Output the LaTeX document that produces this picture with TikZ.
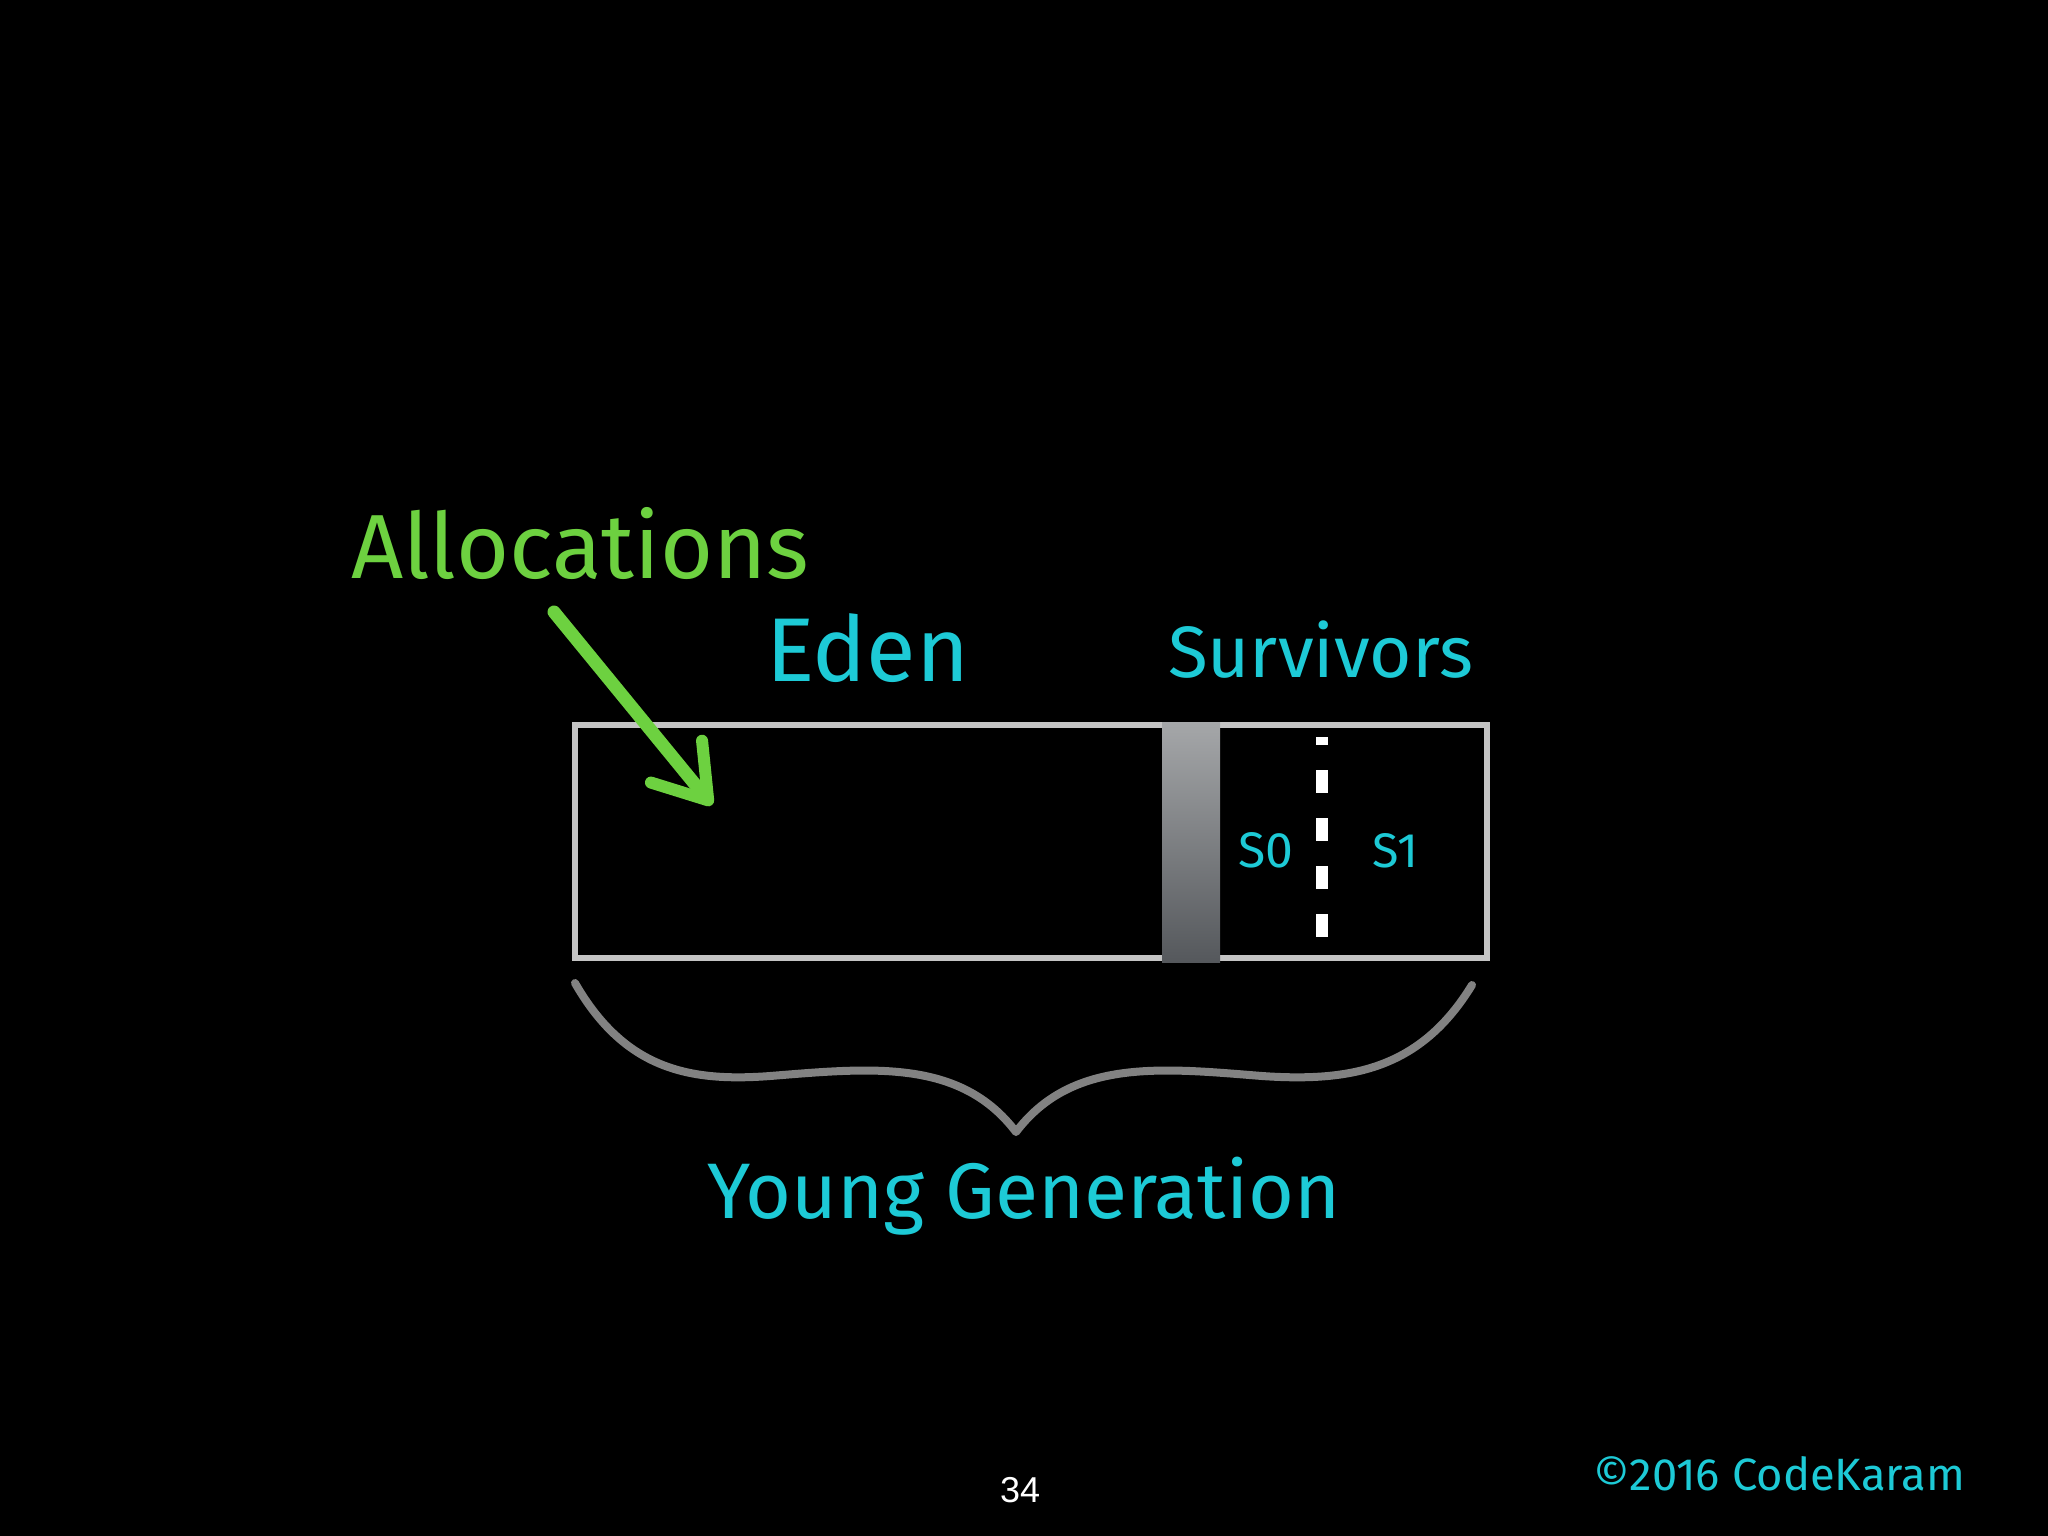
\documentclass[tikz,border=0pt]{standalone}
\usepackage{fontspec}
\setmainfont{Fira Sans}
\newfontfamily\numfont{Liberation Sans}
\usetikzlibrary{arrows.meta,shadings}
\definecolor{chalkgreen}{HTML}{6DD140}
\definecolor{chalkcyan}{HTML}{1DCAD6}
\definecolor{boxgray}{HTML}{C4C4C4}
\definecolor{bracegray}{HTML}{828282}
\definecolor{bartop}{HTML}{A5A7A9}
\definecolor{barbot}{HTML}{55585C}
\begin{document}
\begin{tikzpicture}[x=0.01cm,y=-0.01cm,
  lbl/.style={anchor=base west, inner sep=0pt, outer sep=0pt},
  cyanlbl/.style={lbl, text=chalkcyan},
  greenlbl/.style={lbl, text=chalkgreen},
  boxline/.style={draw=boxgray, line width=0.055cm},
  bracestyle/.style={draw=bracegray, line width=0.08cm, line cap=round, line join=round},
  greenarrow/.style={draw=chalkgreen, line width=0.13cm, line cap=round,
    -{Straight Barb[length=0.5cm, width=0.66cm, line width=0.12cm, round]}},
  survdash/.style={draw=white, line width=0.12cm, dash pattern=on 0.23cm off 0.25cm, dash phase=0.15cm}
]
\fill[black] (0,0) rectangle (2048,1536);
\useasboundingbox (0,0) rectangle (2048,1536);

% labels
\node[greenlbl] (alloc) at (351,578) {\resizebox{4.58cm}{!}{Allocations}};
\node[cyanlbl] (eden) at (766,681) {\resizebox{2.03cm}{!}{Eden}};
\node[cyanlbl] (surv) at (1168,677) {\resizebox{3.05cm}{!}{Survivors}};
\node[cyanlbl] (s0) at (1238,867) {\resizebox{0.55cm}{!}{S0}};
\node[cyanlbl] (s1) at (1372,867) {\resizebox{0.46cm}{!}{S1}};
\node[cyanlbl] (young) at (707,1218) {\resizebox{6.33cm}{!}{Young Generation}};
\node[cyanlbl] (copy) at (1593,1490) {\resizebox{3.72cm}{!}{©2016 CodeKaram}};
\node[lbl, text=white] (page) at (1000,1502) {\resizebox{0.40cm}{!}{\numfont 34}};

% young generation box
\draw[boxline] (575,725) rectangle (1487,958);
\shade[top color=bartop, bottom color=barbot] (1162,722) rectangle (1220,962);
\coordinate (dashtop) at (1322,737);
\coordinate (dashbot) at (1322,937);
\draw[survdash] (dashtop) -- (dashbot);

% allocation arrow
\coordinate (arrowstart) at (554,612);
\coordinate (arrowtip) at (712,805);
\draw[greenarrow] (arrowstart) -- (arrowtip);

% brace
\coordinate (braceL) at (575,983);
\coordinate (braceTip) at (1016,1132);
\coordinate (braceR) at (1472,985);
\draw[bracestyle] (braceL) .. controls (625,1070) and (690,1082) .. (770,1076)
  .. controls (870,1068) and (960,1058) .. (braceTip)
  .. controls (1072,1058) and (1162,1068) .. (1262,1076)
  .. controls (1350,1082) and (1420,1070) .. (braceR);
\end{tikzpicture}
\end{document}
